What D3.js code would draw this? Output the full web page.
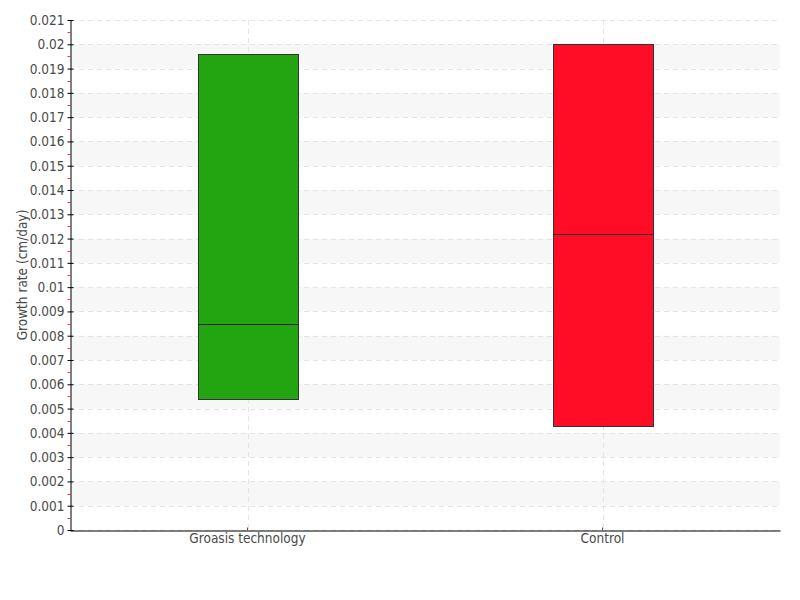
<!DOCTYPE html>
<html><head><meta charset="utf-8">
<script src="https://cdn.jsdelivr.net/npm/d3@7"></script>
<style>
body{margin:0;background:#fff;}
svg text{font-family:"DejaVu Sans Condensed","DejaVu Sans",sans-serif;font-stretch:condensed;fill:#4a4a4a;}
</style></head><body>
<svg id="c" width="800" height="600"></svg>
<script>
const categories = ["Groasis technology", "Control"];
const q1 = [0.0054, 0.0043];
const median = [0.0085, 0.0122];
const q3 = [0.0196, 0.0200];
const colors = ["#22a511", "#ff0d27"];
const yTicks = d3.range(0, 0.0215, 0.001).map(v => +v.toFixed(3));
const yTitle = "Growth rate (cm/day)";

const svg = d3.select("#c");
const L = 70, R = 780, T = 20, B = 530;
const y = d3.scaleLinear().domain([0, 0.021]).range([B, T]);
const x = d3.scaleBand().domain(categories).range([L, R]);

const g = svg.append("g");
for (let i = 1; i < 21; i += 2) {
  g.append("rect").attr("x", L).attr("width", R - L)
    .attr("y", y(yTicks[i + 1])).attr("height", y(yTicks[i]) - y(yTicks[i + 1]))
    .attr("fill", "#f7f7f7");
}
g.selectAll("line.h").data(yTicks).join("line")
  .attr("x1", L).attr("x2", R).attr("y1", d => Math.round(y(d)) + 0.5).attr("y2", d => Math.round(y(d)) + 0.5)
  .attr("stroke", "#e4e4e4").attr("stroke-dasharray", "5,4");
g.selectAll("line.v").data(categories).join("line")
  .attr("x1", d => Math.round(x(d) + x.bandwidth() / 2) + 0.5)
  .attr("x2", d => Math.round(x(d) + x.bandwidth() / 2) + 0.5)
  .attr("y1", T).attr("y2", B)
  .attr("stroke", "#e4e4e4").attr("stroke-dasharray", "5,4");

const bw = 100;
const data = categories.map((c, i) => ({c, q1: q1[i], m: median[i], q3: q3[i], col: colors[i]}));
const bx = svg.append("g");
bx.selectAll("rect").data(data).join("rect")
  .attr("x", d => Math.round(x(d.c) + x.bandwidth() / 2 - bw / 2) + 0.5)
  .attr("width", bw)
  .attr("y", d => Math.round(y(d.q3)) + 0.5)
  .attr("height", d => Math.round(y(d.q1)) - Math.round(y(d.q3)))
  .attr("fill", d => d.col).attr("stroke", "#333").attr("stroke-width", 1);
bx.selectAll("line").data(data).join("line")
  .attr("x1", d => Math.round(x(d.c) + x.bandwidth() / 2 - bw / 2) + 0.5)
  .attr("x2", d => Math.round(x(d.c) + x.bandwidth() / 2 + bw / 2) + 0.5)
  .attr("y1", d => Math.round(y(d.m)) + 0.5).attr("y2", d => Math.round(y(d.m)) + 0.5)
  .attr("stroke", "#222").attr("stroke-width", 1);

const ya = svg.append("g").attr("transform", `translate(${L + 0.5},0)`)
  .call(d3.axisLeft(y).tickValues(yTicks).tickFormat(d => d === 0 ? "0" : d3.format("")(+d.toFixed(3))).tickSizeInner(3).tickSizeOuter(0).tickPadding(3));
ya.attr("font-family", null);
ya.select(".domain").attr("stroke", "#000");
ya.selectAll(".tick line").attr("stroke", "#000").attr("x2", 3).attr("x1", -3);
ya.selectAll(".tick text").attr("font-size", 13.5).attr("dy", "0.33em");

svg.append("g").selectAll("line").data(yTicks.slice(0, -1)).join("line")
  .attr("x1", 67.5).attr("x2", 70.5)
  .attr("y1", d => Math.round(y(d + 0.0005)) + 0.5).attr("y2", d => Math.round(y(d + 0.0005)) + 0.5)
  .attr("stroke", "#ff3030").attr("stroke-width", 1);

const xa = svg.append("g").attr("transform", `translate(0,${B + 0.5})`)
  .call(d3.axisBottom(x).tickSizeInner(-3).tickSizeOuter(0).tickPadding(3));
xa.attr("font-family", null);
xa.select(".domain").attr("stroke", "#000");
xa.selectAll(".tick line").attr("stroke", "#555");
xa.selectAll(".tick text").attr("font-size", 13.5);

svg.append("text").attr("transform", `translate(27,${(T + B) / 2}) rotate(-90)`)
  .attr("text-anchor", "middle").attr("font-size", 13.5)
  .text(yTitle);
</script></body></html>
